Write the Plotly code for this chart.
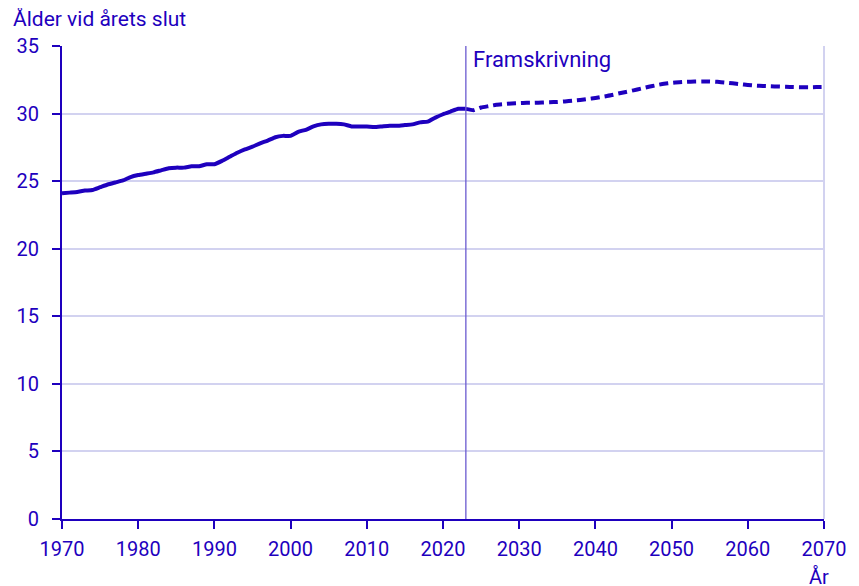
import plotly.graph_objects as go

hist_years = list(range(1970, 2024))
hist_vals = [24.1, 24.15, 24.2, 24.3, 24.35, 24.55, 24.75, 24.9, 25.05, 25.3,
             25.45, 25.55, 25.65, 25.8, 25.95, 26.0, 26.0, 26.1, 26.1, 26.25,
             26.25, 26.5, 26.8, 27.1, 27.35, 27.55, 27.8, 28.0, 28.25, 28.35,
             28.35, 28.65, 28.8, 29.05, 29.2, 29.25, 29.25, 29.2, 29.05, 29.05,
             29.05, 29.0, 29.05, 29.1, 29.1, 29.15, 29.2, 29.35, 29.4, 29.7,
             29.95, 30.15, 30.35, 30.35]

proj_years = list(range(2023, 2071))
proj_vals = [30.35, 30.25, 30.45, 30.55, 30.65, 30.7, 30.75, 30.78, 30.8, 30.8,
             30.82, 30.84, 30.86, 30.9, 30.95, 31.0, 31.08, 31.15, 31.25, 31.35,
             31.48, 31.6, 31.72, 31.85, 31.98, 32.1, 32.2, 32.27, 32.32, 32.35,
             32.37, 32.38, 32.38, 32.35, 32.3, 32.24, 32.18, 32.12, 32.07, 32.04,
             32.02, 32.0, 31.98, 31.96, 31.95, 31.95, 31.96, 31.97]

x_ticks = list(range(1970, 2071, 10))
y_ticks = list(range(0, 36, 5))

BLUE = "#1e00be"
GRID = "#d2d2f0"
FONT = "Roboto"
FS = 20

fig = go.Figure()
fig.add_trace(go.Scatter(x=hist_years, y=hist_vals, mode="lines",
                         line=dict(color=BLUE, width=4, shape="spline", smoothing=0.4),
                         showlegend=False, hoverinfo="skip"))
fig.add_trace(go.Scatter(x=proj_years, y=proj_vals, mode="lines",
                         line=dict(color=BLUE, width=4, dash="9px,5px", shape="spline", smoothing=0.4),
                         showlegend=False, hoverinfo="skip"))

fig.add_shape(type="line", xref="x", yref="paper", x0=2023, x1=2023, y0=0, y1=1,
              line=dict(color="#6a5ad0", width=1.3))
fig.add_shape(type="line", xref="paper", yref="paper", x0=1, x1=1, y0=0, y1=1,
              line=dict(color=GRID, width=2), layer="below")

fig.add_annotation(x=2024, y=1, xref="x", yref="paper", text="Framskrivning",
                   showarrow=False, xanchor="left", yanchor="top", yshift=1, xshift=-2,
                   font=dict(family=FONT, size=22, color=BLUE))
fig.add_annotation(x=0, y=1, xref="paper", yref="paper", xshift=-51, yshift=13,
                   text="Ålder vid årets slut", showarrow=False,
                   xanchor="left", yanchor="bottom",
                   font=dict(family=FONT, size=21, color=BLUE))
fig.add_annotation(x=1, y=0, xref="paper", yref="paper", xshift=-5, yshift=-44,
                   text="År", showarrow=False, xanchor="center", yanchor="top",
                   font=dict(family=FONT, size=FS, color=BLUE))

fig.update_layout(
    width=851, height=578,
    margin=dict(l=54, r=35, t=38, b=67),
    paper_bgcolor="white", plot_bgcolor="white",
    font=dict(family=FONT, size=FS, color=BLUE),
    xaxis=dict(range=[1970, 2070], tickvals=x_ticks, showgrid=False,
               showline=True, linecolor=BLUE, linewidth=2,
               ticks="outside", ticklen=8, tickcolor=BLUE, tickwidth=2,
               ticklabelstandoff=3, automargin=False,
               zeroline=False, tickfont=dict(size=FS, color=BLUE)),
    yaxis=dict(range=[0, 35], tickvals=y_ticks, showgrid=True, gridcolor=GRID,
               gridwidth=2, showline=True, linecolor=BLUE, linewidth=2,
               ticks="outside", ticklen=8, tickcolor=BLUE, tickwidth=2,
               ticklabelstandoff=9, automargin=False,
               zeroline=False, tickfont=dict(size=FS, color=BLUE)),
)

fig.write_html("out.html")
